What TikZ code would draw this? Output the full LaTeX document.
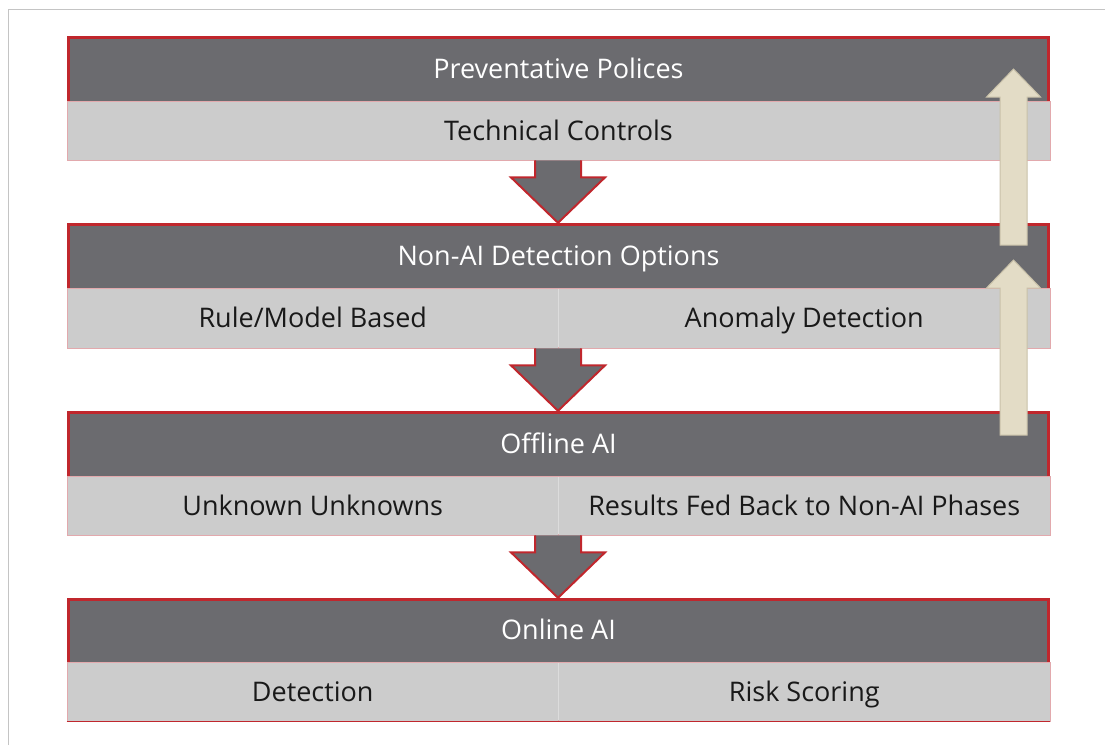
\documentclass[tikz,border=0pt]{standalone}
\usepackage{fontspec}
\setmainfont{Open Sans}
\usetikzlibrary{calc}
\definecolor{hdr}{HTML}{6B6B6F}
\definecolor{lite}{HTML}{CCCCCC}
\definecolor{redb}{HTML}{C0272D}
\definecolor{pinkb}{HTML}{E2A9AD}
\definecolor{beige}{HTML}{E3DCC6}
\definecolor{beigeb}{HTML}{C9C1A9}
\definecolor{frame}{HTML}{C4C4C4}
\definecolor{divl}{HTML}{DCDCDC}
\begin{document}
\begin{tikzpicture}[x=1pt,y=-1pt,
  txt/.style={font=\fontsize{27}{32}\selectfont,text height=22pt,text depth=3pt},
  hdrbox/.style={rectangle,fill=hdr,minimum width=983pt,inner sep=0pt,text=white,txt},
  litebox/.style={rectangle,fill=lite,draw=pinkb,line width=0.8pt,inner sep=0pt,text=black!90,txt},
  redline/.style={draw=redb,line width=3pt},
  downarrow/.style={fill=hdr,draw=redb,line width=2pt,line join=miter},
  uparrow/.style={fill=beige,draw=beigeb,line width=1pt,line join=miter}]
\useasboundingbox (0,0) rectangle (1105,745);
\draw[frame,line width=1pt] (8,745) -- (8,9) -- (1105,9);
% box 1
\node[hdrbox,minimum height=65pt] (h1) at (558.5,68.5) {Preventative Polices};
\node[litebox,minimum width=983pt,minimum height=59pt] (l1) at (558.5,130.5) {Technical Controls};
% box 2
\node[hdrbox,minimum height=65pt] (h2) at (558.5,255.5) {Non-AI Detection Options};
\node[litebox,minimum width=491.5pt,minimum height=60pt] (l2a) at (312.75,318) {Rule/Model Based};
\node[litebox,minimum width=491.5pt,minimum height=60pt] (l2b) at (804.25,318) {Anomaly Detection};
% box 3
\node[hdrbox,minimum height=65pt] (h3) at (558.5,443.5) {Offline AI};
\node[litebox,minimum width=491.5pt,minimum height=59pt] (l3a) at (312.75,505.5) {Unknown Unknowns};
\node[litebox,minimum width=491.5pt,minimum height=59pt] (l3b) at (804.25,505.5) {Results Fed Back to Non-AI Phases};
% box 4
\node[hdrbox,minimum height=64pt] (h4) at (558.5,630) {Online AI};
\node[litebox,minimum width=491.5pt,minimum height=59pt] (l4a) at (312.75,691.5) {Detection};
\node[litebox,minimum width=491.5pt,minimum height=59pt] (l4b) at (804.25,691.5) {Risk Scoring};
% dividers
\foreach \a/\b in {l2a/l2b,l3a/l3b,l4a/l4b}{
  \draw[divl,line width=1pt] ($(\a.north east)+(0,1)$) -- ($(\a.south east)+(0,-1)$);
}
\draw[redb,line width=0.8pt] (l4a.south west) -- (l4b.south east);
% red borders of headers
\foreach \h in {h1,h2,h3,h4}{
  \draw[redline] ($(\h.south west)+(1.5,0)$) -- ($(\h.north west)+(1.5,1.5)$) -- ($(\h.north east)+(-1.5,1.5)$) -- ($(\h.south east)+(-1.5,0)$);
}
% down arrows
\foreach \s/\t in {l1/h2,l2a/h3,l3a/h4}{
  \path let \p1=(\s.south), \p2=(\t.north) in
    coordinate (st) at (558,\y1) coordinate (tp) at (558,\y2);
  \draw[downarrow] ($(st)+(-23,0)$) -- ($(st)+(-23,17)$) -- ($(st)+(-47,17)$) -- (tp) -- ($(st)+(47,17)$) -- ($(st)+(23,17)$) -- ($(st)+(23,0)$);
}
% up arrows
\coordinate (ua1) at (1013.5,245);
\coordinate (ut1) at (1013.5,69);
\coordinate (ua2) at (1013.5,435);
\coordinate (ut2) at (1013.5,260);
\foreach \b/\t in {ua1/ut1,ua2/ut2}{
  \draw[uparrow] ($(\b)+(-13.5,0)$) -- ($(\t)+(-13.5,28)$) -- ($(\t)+(-27,28)$) -- (\t) -- ($(\t)+(27,28)$) -- ($(\t)+(13.5,28)$) -- ($(\b)+(13.5,0)$) -- cycle;
}
\end{tikzpicture}
\end{document}
